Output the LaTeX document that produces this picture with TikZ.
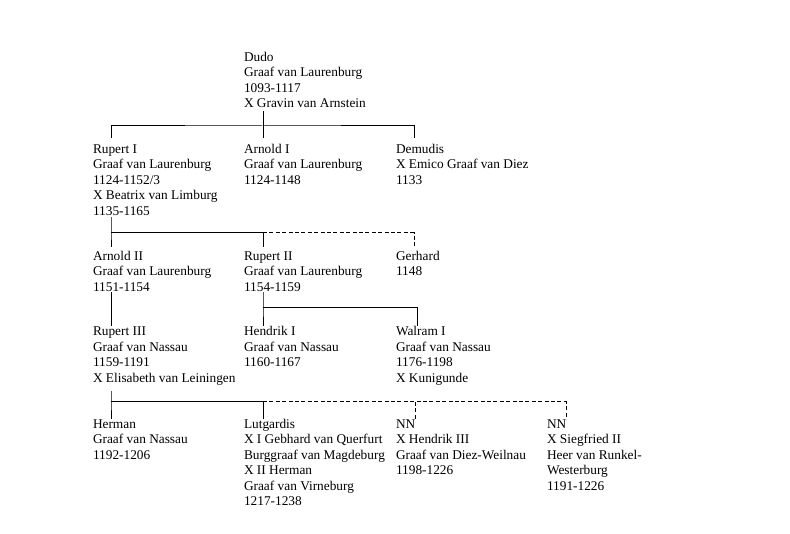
\documentclass[tikz,border=0pt]{standalone}
\usepackage{fontspec}
\setmainfont{Liberation Serif}
\begin{document}
\begin{tikzpicture}[x=0.75pt,y=-0.75pt,
  person/.style={anchor=base west,inner sep=0pt,outer sep=0pt,font=\fontsize{10}{11.625}\selectfont},
  link/.style={line width=0.75pt,line cap=rect},
  dlink/.style={line width=0.75pt,dash pattern=on 3pt off 1.8pt}]
\useasboundingbox (0,0) rectangle (790,534);
\newcommand{\pp}[1]{\begin{tabular}[t]{@{}l@{}}#1\end{tabular}}
% persons
\node[person] (dudo) at (244,61.5) {\pp{Dudo\\Graaf van Laurenburg\\1093-1117\\X Gravin van Arnstein}};
\node[person] (rupert1) at (93,153.5) {\pp{Rupert I\\Graaf van Laurenburg\\1124-1152/3\\X Beatrix van Limburg\\1135-1165}};
\node[person] (arnold1) at (244,153.5) {\pp{Arnold I\\Graaf van Laurenburg\\1124-1148}};
\node[person] (demudis) at (396,153.5) {\pp{Demudis\\X Emico Graaf van Diez\\1133}};
\node[person] (arnold2) at (93,260.5) {\pp{Arnold II\\Graaf van Laurenburg\\1151-1154}};
\node[person] (rupert2) at (244,260.5) {\pp{Rupert II\\Graaf van Laurenburg\\1154-1159}};
\node[person] (gerhard) at (396,260.5) {\pp{Gerhard\\1148}};
\node[person] (rupert3) at (93,336) {\pp{Rupert III\\Graaf van Nassau\\1159-1191\\X Elisabeth van Leiningen}};
\node[person] (hendrik1) at (244,336) {\pp{Hendrik I\\Graaf van Nassau\\1160-1167}};
\node[person] (walram1) at (396,336) {\pp{Walram I\\Graaf van Nassau\\1176-1198\\X Kunigunde}};
\node[person] (herman) at (93,428.5) {\pp{Herman\\Graaf van Nassau\\1192-1206}};
\node[person] (lutgardis) at (244,428.5) {\pp{Lutgardis\\X I Gebhard van Querfurt\\Burggraaf van Magdeburg\\X II Herman\\Graaf van Virneburg\\1217-1238}};
\node[person] (nn1) at (396,428.5) {\pp{NN\\X Hendrik III\\Graaf van Diez-Weilnau\\1198-1226}};
\node[person] (nn2) at (547,428.5) {\pp{NN\\X Siegfried II\\Heer van Runkel-\\Westerburg\\1191-1226}};
% connection points
\coordinate (dudo-b) at (263,112);
\coordinate (bus1) at (263,126);
\coordinate (rupert1-t) at (111,138);
\coordinate (arnold1-t) at (263,138);
\coordinate (demudis-t) at (414,138);
\coordinate (rupert1-b) at (111,218);
\coordinate (bus2) at (111,233);
\coordinate (arnold2-t) at (111,247);
\coordinate (rupert2-t) at (263,247);
\coordinate (gerhard-t) at (414,247);
\coordinate (rupert2-b) at (263,293);
\coordinate (bus3) at (263,308);
\coordinate (hendrik1-t) at (263,326);
\coordinate (walram1-t) at (417,326);
\coordinate (arnold2-b) at (111,293);
\coordinate (rupert3-t) at (111,326);
\coordinate (rupert3-b) at (111,392);
\coordinate (bus4) at (111,402);
\coordinate (herman-t) at (111,419);
\coordinate (lutgardis-t) at (263,419);
\coordinate (nn1-t) at (415,419);
\coordinate (nn2-t) at (566,419);
% connectors
\draw[link] (dudo-b) -- (bus1);
\draw[link] (rupert1-t) |- (bus1) -| (demudis-t);
\draw[link] (bus1) -- (arnold1-t);
\draw[link] (rupert1-b) -- (bus2) -- (arnold2-t);
\draw[link] (bus2) -| (rupert2-t);
\draw[dlink] (rupert2-t |- bus2) -| (gerhard-t);
\draw[link] (rupert2-b) -- (bus3) -- (hendrik1-t);
\draw[link] (bus3) -| (walram1-t);
\draw[link] (arnold2-b) -- (rupert3-t);
\draw[link] (rupert3-b) -- (bus4) -- (herman-t);
\draw[link] (bus4) -| (lutgardis-t);
\draw[dlink] (lutgardis-t |- bus4) -| (nn2-t);
\draw[dlink] (nn1-t |- bus4) -- (nn1-t);
\end{tikzpicture}
\end{document}
